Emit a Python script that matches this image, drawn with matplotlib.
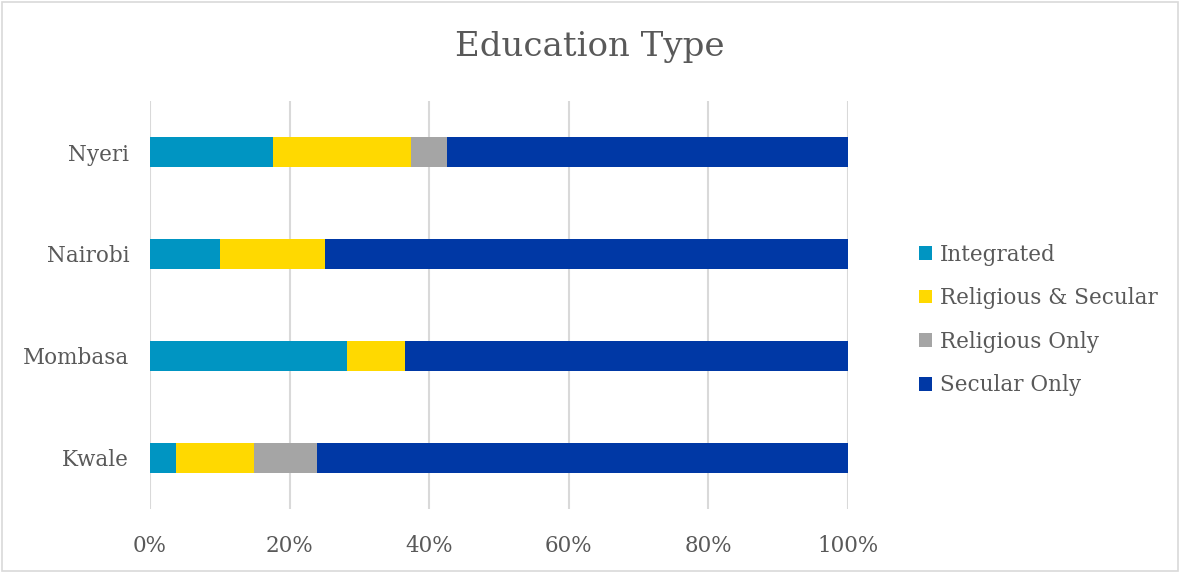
import matplotlib.pyplot as plt
from matplotlib.patches import Rectangle

counties = ['Kwale', 'Mombasa', 'Nairobi', 'Nyeri']
integrated = [3.7, 28.2, 10.0, 17.6]
religious_secular = [11.2, 8.4, 15.1, 19.8]
religious_only = [9.0, 0.0, 0.0, 5.1]
secular_only = [76.1, 63.4, 74.9, 57.5]

series = ['Integrated', 'Religious & Secular', 'Religious Only', 'Secular Only']
colors = ['#0095C2', '#FFD900', '#A5A5A5', '#0038A5']
text_col = '#595959'

plt.rcParams['font.family'] = ['DejaVu Serif']

fig = plt.figure(figsize=(11.8, 5.73), dpi=100)
ax = fig.add_axes([150 / 1180, 1 - 509 / 573, 698 / 1180, 408 / 573])

left = [0.0] * len(counties)
for vals, name, col in zip([integrated, religious_secular, religious_only, secular_only], series, colors):
    ax.barh(counties, vals, left=left, height=0.3, color=col, label=name, zorder=3)
    left = [a + b for a, b in zip(left, vals)]

ax.set_xlim(0, 100)
ax.set_ylim(-0.5, 3.5)
ax.set_xticks(range(0, 101, 20))
ax.set_xticklabels([f'{t}%' for t in range(0, 101, 20)])
ax.grid(axis='x', color='#D9D9D9', linewidth=1.5, zorder=0)
for s in ax.spines.values():
    s.set_visible(False)
ax.tick_params(length=0, labelsize=15.5, colors=text_col)
ax.tick_params(axis='y', pad=15)
ax.tick_params(axis='x', pad=19)

fig.text(590 / 1180, 1 - 47 / 573, 'Education Type', ha='center', va='center',
         fontsize=24.5, color=text_col)

fig.legend(loc='center left', bbox_to_anchor=(900 / 1180, 1 - 320 / 573), frameon=False,
           fontsize=15.5, labelcolor=text_col, handlelength=0.6, handleheight=0.6,
           handletextpad=0.35, labelspacing=1.0)

fig.patches.append(Rectangle((2 / 1180, 2 / 573), 1176 / 1180, 569 / 573, transform=fig.transFigure,
                             fill=False, edgecolor='#D9D9D9', linewidth=1.2))

fig.savefig('out.png', dpi=100)
